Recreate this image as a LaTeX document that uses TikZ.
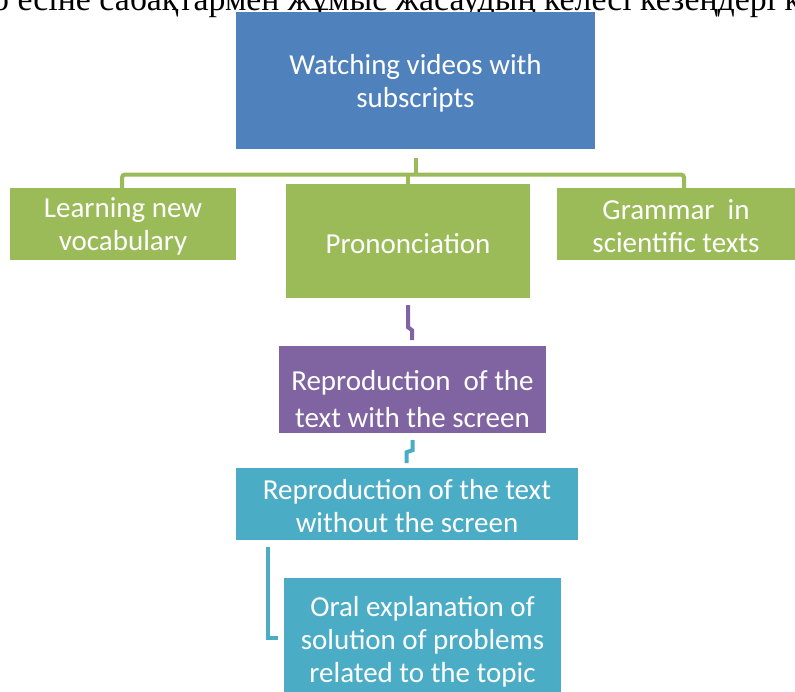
\documentclass[tikz,border=0pt]{standalone}
\usepackage{fontspec}
\setmainfont{Carlito}
\newfontfamily\serifkz{Liberation Serif}
\usetikzlibrary{calc}
\definecolor{cblue}{HTML}{4F81BD}
\definecolor{cgreen}{HTML}{9BBB59}
\definecolor{cpurple}{HTML}{8064A2}
\definecolor{cteal}{HTML}{4BACC6}
\begin{document}
\begin{tikzpicture}[x=1pt,y=-1pt,
  boxtext/.style={inner sep=0pt, text=white, align=center, font=\fontsize{29}{33}\selectfont, yshift=-2.5pt},
  box/.style={inner sep=0pt},
  txt/.style={label={[boxtext]center:#1}},
  conn/.style={line width=4pt}]
\clip (0,0) rectangle (795,691);
\fill[white] (0,0) rectangle (795,691);
% cut-off line of text above the diagram
\node[anchor=base west, inner sep=0pt, font=\serifkz\fontsize{33.8}{38}\selectfont] (head) at (-8,10.5)
  {о есіне сабақтармен жұмыс жасаудың келесі кезеңдері қ};
% boxes
\node[box, fill=cblue, minimum width=359pt, minimum height=137pt,
  txt={Watching videos with\\subscripts}] (top) at (415.5,80.5) {};
\node[box, fill=cgreen, minimum width=226pt, minimum height=72pt,
  txt={Learning new\\vocabulary}] (learn) at (123,224) {};
\node[box, fill=cgreen, minimum width=244pt, minimum height=114pt,
  txt={Prononciation}] (prono) at (408,241) {};
\node[box, fill=cgreen, minimum width=238pt, minimum height=72pt,
  txt={Grammar\ \ in\\scientific texts}] (gram) at (676,224) {};
\node[box, fill=cpurple, minimum width=267pt, minimum height=87pt,
  label={[boxtext, font=\fontsize{29}{37}\selectfont, yshift=-7pt]center:{Reproduction\ \ of the\\text with the screen}}] (repro) at (412.5,389.5) {};
\node[box, fill=cteal, minimum width=342pt, minimum height=72pt,
  txt={Reproduction of the text\\without the screen}] (rep2) at (407,504) {};
\node[box, fill=cteal, minimum width=277pt, minimum height=122pt,
  txt={Oral explanation of\\solution of problems\\related to the topic}] (oral) at (422.5,639) {};
% connectors
\coordinate (gA) at ($(top.south)+(0.5,9)$);
\coordinate (gL) at ($(learn.north)+(-1,2)$);
\coordinate (gR) at ($(gram.north)+(8,2)$);
\coordinate (gM) at ($(prono.north)+(-0.5,1)$);
\draw[conn, cgreen] (gA) -- ++(0,16.5);
\draw[conn, cgreen, rounded corners=3pt] (gL) -- (gL |- 0,174.5) -- (gR |- 0,174.5) -- (gR);
\draw[conn, cgreen] (gM) -- (gM |- 0,174.5);
\draw[conn, cpurple] ($(prono.south)+(0,7)$) -- ++(0,22) -- ++(4,3) -- ++(0,10);
\draw[conn, cteal] ($(repro.south)+(0,7)$) -- ++(0,10) -- ++(-6,2) -- ++(0,11);
\draw[conn, cteal] ($(rep2.south west)+(32,7)$) -- ++(0,91) -- ++(10,0);
\end{tikzpicture}
\end{document}
